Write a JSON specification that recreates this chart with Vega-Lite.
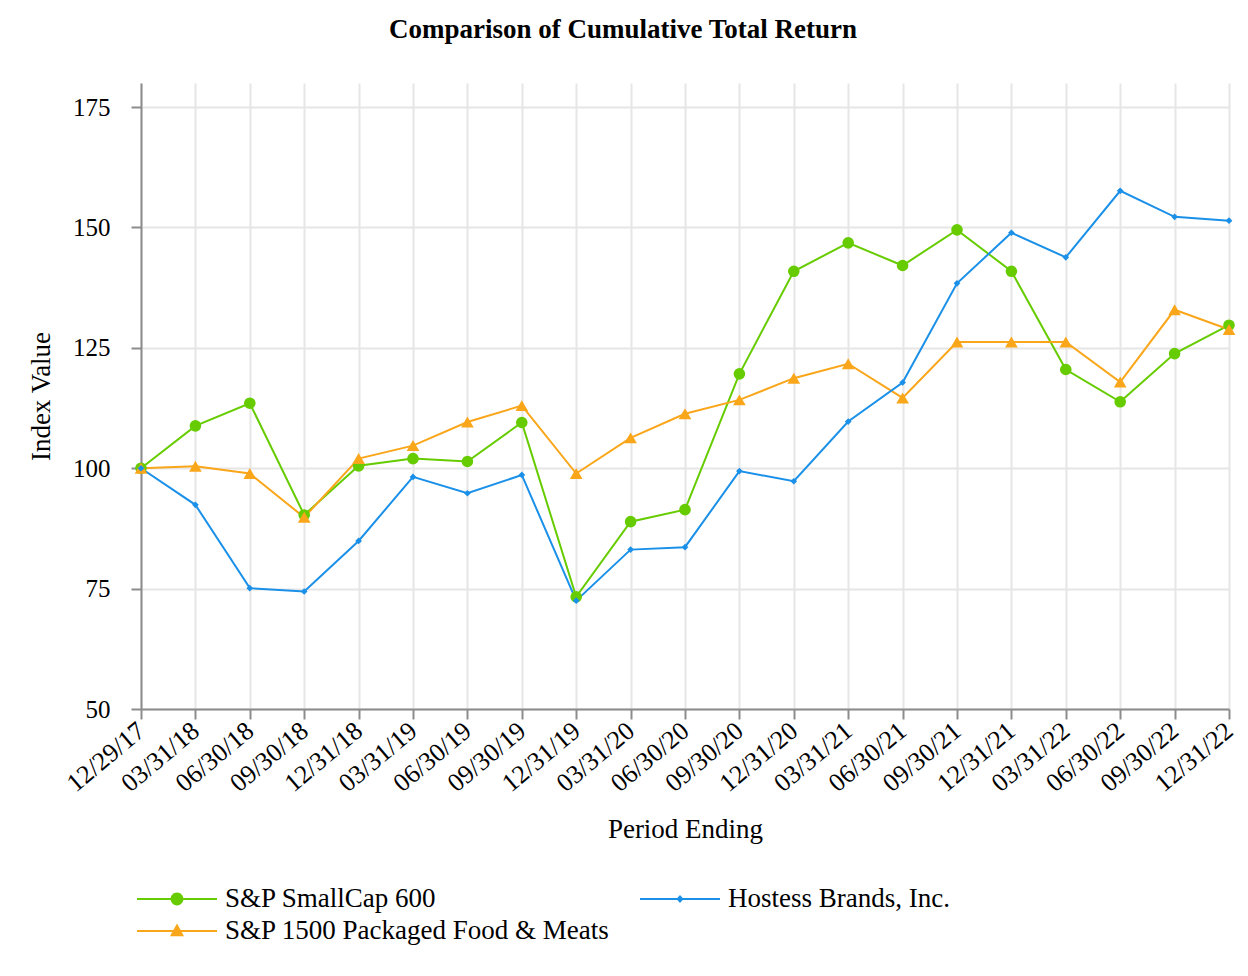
{
  "$schema": "https://vega.github.io/schema/vega-lite/v6.json",
  "width": 1088,
  "height": 626,
  "autosize": {"type": "none"},
  "padding": {"left": 141, "top": 83, "right": 19, "bottom": 267},
  "background": "white",
  "title": {
    "text": "Comparison of Cumulative Total Return",
    "font": "Liberation Serif",
    "fontSize": 27,
    "fontWeight": "bold",
    "color": "black",
    "anchor": "middle",
    "dx": -62,
    "offset": 39
  },
  "datasets": {
    "returns": [
      {"date": "12/29/17", "series": "S&P SmallCap 600", "value": 100},
      {"date": "03/31/18", "series": "S&P SmallCap 600", "value": 108.8},
      {"date": "06/30/18", "series": "S&P SmallCap 600", "value": 113.5},
      {"date": "09/30/18", "series": "S&P SmallCap 600", "value": 90.3},
      {"date": "12/31/18", "series": "S&P SmallCap 600", "value": 100.5},
      {"date": "03/31/19", "series": "S&P SmallCap 600", "value": 102.0},
      {"date": "06/30/19", "series": "S&P SmallCap 600", "value": 101.4},
      {"date": "09/30/19", "series": "S&P SmallCap 600", "value": 109.5},
      {"date": "12/31/19", "series": "S&P SmallCap 600", "value": 73.3},
      {"date": "03/31/20", "series": "S&P SmallCap 600", "value": 88.9},
      {"date": "06/30/20", "series": "S&P SmallCap 600", "value": 91.4},
      {"date": "09/30/20", "series": "S&P SmallCap 600", "value": 119.6},
      {"date": "12/31/20", "series": "S&P SmallCap 600", "value": 140.9},
      {"date": "03/31/21", "series": "S&P SmallCap 600", "value": 146.8},
      {"date": "06/30/21", "series": "S&P SmallCap 600", "value": 142.1},
      {"date": "09/30/21", "series": "S&P SmallCap 600", "value": 149.5},
      {"date": "12/31/21", "series": "S&P SmallCap 600", "value": 140.9},
      {"date": "03/31/22", "series": "S&P SmallCap 600", "value": 120.5},
      {"date": "06/30/22", "series": "S&P SmallCap 600", "value": 113.8},
      {"date": "09/30/22", "series": "S&P SmallCap 600", "value": 123.8},
      {"date": "12/31/22", "series": "S&P SmallCap 600", "value": 129.7},
      {"date": "12/29/17", "series": "S&P 1500 Packaged Food & Meats", "value": 100},
      {"date": "03/31/18", "series": "S&P 1500 Packaged Food & Meats", "value": 100.4},
      {"date": "06/30/18", "series": "S&P 1500 Packaged Food & Meats", "value": 98.9},
      {"date": "09/30/18", "series": "S&P 1500 Packaged Food & Meats", "value": 89.8},
      {"date": "12/31/18", "series": "S&P 1500 Packaged Food & Meats", "value": 102.0},
      {"date": "03/31/19", "series": "S&P 1500 Packaged Food & Meats", "value": 104.7},
      {"date": "06/30/19", "series": "S&P 1500 Packaged Food & Meats", "value": 109.6},
      {"date": "09/30/19", "series": "S&P 1500 Packaged Food & Meats", "value": 113.0},
      {"date": "12/31/19", "series": "S&P 1500 Packaged Food & Meats", "value": 98.9},
      {"date": "03/31/20", "series": "S&P 1500 Packaged Food & Meats", "value": 106.3},
      {"date": "06/30/20", "series": "S&P 1500 Packaged Food & Meats", "value": 111.3},
      {"date": "09/30/20", "series": "S&P 1500 Packaged Food & Meats", "value": 114.2},
      {"date": "12/31/20", "series": "S&P 1500 Packaged Food & Meats", "value": 118.7},
      {"date": "03/31/21", "series": "S&P 1500 Packaged Food & Meats", "value": 121.7},
      {"date": "06/30/21", "series": "S&P 1500 Packaged Food & Meats", "value": 114.6},
      {"date": "09/30/21", "series": "S&P 1500 Packaged Food & Meats", "value": 126.2},
      {"date": "12/31/21", "series": "S&P 1500 Packaged Food & Meats", "value": 126.2},
      {"date": "03/31/22", "series": "S&P 1500 Packaged Food & Meats", "value": 126.2},
      {"date": "06/30/22", "series": "S&P 1500 Packaged Food & Meats", "value": 117.9},
      {"date": "09/30/22", "series": "S&P 1500 Packaged Food & Meats", "value": 132.9},
      {"date": "12/31/22", "series": "S&P 1500 Packaged Food & Meats", "value": 128.8},
      {"date": "12/29/17", "series": "Hostess Brands, Inc.", "value": 100},
      {"date": "03/31/18", "series": "Hostess Brands, Inc.", "value": 92.4},
      {"date": "06/30/18", "series": "Hostess Brands, Inc.", "value": 75.1},
      {"date": "09/30/18", "series": "Hostess Brands, Inc.", "value": 74.4},
      {"date": "12/31/18", "series": "Hostess Brands, Inc.", "value": 84.9},
      {"date": "03/31/19", "series": "Hostess Brands, Inc.", "value": 98.2},
      {"date": "06/30/19", "series": "Hostess Brands, Inc.", "value": 94.8},
      {"date": "09/30/19", "series": "Hostess Brands, Inc.", "value": 98.6},
      {"date": "12/31/19", "series": "Hostess Brands, Inc.", "value": 72.5},
      {"date": "03/31/20", "series": "Hostess Brands, Inc.", "value": 83.1},
      {"date": "06/30/20", "series": "Hostess Brands, Inc.", "value": 83.6},
      {"date": "09/30/20", "series": "Hostess Brands, Inc.", "value": 99.4},
      {"date": "12/31/20", "series": "Hostess Brands, Inc.", "value": 97.3},
      {"date": "03/31/21", "series": "Hostess Brands, Inc.", "value": 109.7},
      {"date": "06/30/21", "series": "Hostess Brands, Inc.", "value": 117.8},
      {"date": "09/30/21", "series": "Hostess Brands, Inc.", "value": 138.4},
      {"date": "12/31/21", "series": "Hostess Brands, Inc.", "value": 148.9},
      {"date": "03/31/22", "series": "Hostess Brands, Inc.", "value": 143.8},
      {"date": "06/30/22", "series": "Hostess Brands, Inc.", "value": 157.6},
      {"date": "09/30/22", "series": "Hostess Brands, Inc.", "value": 152.2},
      {"date": "12/31/22", "series": "Hostess Brands, Inc.", "value": 151.4}
    ]
  },
  "data": {"name": "returns"},
  "encoding": {
    "x": {
      "field": "date",
      "type": "ordinal",
      "sort": null,
      "scale": {"type": "point", "padding": 0},
      "axis": {
        "title": "Period Ending",
        "labelAngle": -40,
        "labelBaseline": "middle",
        "labelPadding": 8,
        "labelFontSize": 26,
        "titlePadding": 20,
        "grid": true
      }
    },
    "y": {
      "field": "value",
      "type": "quantitative",
      "scale": {"domain": [50, 180], "nice": false, "zero": false},
      "axis": {
        "title": "Index Value",
        "values": [50, 75, 100, 125, 150, 175],
        "labelPadding": 21,
        "titlePadding": 17
      }
    }
  },
  "layer": [
    {
      "mark": {"type": "line", "strokeWidth": 2},
      "encoding": {
        "color": {
          "field": "series",
          "type": "nominal",
          "scale": {
            "domain": ["S&P SmallCap 600", "S&P 1500 Packaged Food & Meats", "Hostess Brands, Inc."],
            "range": ["#66cc00", "#faa61a", "#1a90e8"]
          },
          "legend": null
        }
      }
    },
    {
      "mark": {"type": "point", "filled": true, "opacity": 1, "strokeWidth": 0},
      "encoding": {
        "color": {
          "field": "series",
          "type": "nominal",
          "scale": {
            "domain": ["S&P SmallCap 600", "S&P 1500 Packaged Food & Meats", "Hostess Brands, Inc."],
            "range": ["#66cc00", "#faa61a", "#1a90e8"]
          },
          "legend": null
        },
        "shape": {
          "field": "series",
          "type": "nominal",
          "scale": {
            "domain": ["S&P SmallCap 600", "S&P 1500 Packaged Food & Meats", "Hostess Brands, Inc."],
            "range": ["circle", "triangle-up", "diamond"]
          },
          "legend": null
        },
        "size": {
          "field": "series",
          "type": "nominal",
          "scale": {
            "type": "ordinal",
            "domain": ["S&P SmallCap 600", "S&P 1500 Packaged Food & Meats", "Hostess Brands, Inc."],
            "range": [135, 160, 45]
          },
          "legend": null
        }
      }
    },
    {
      "mark": {"type": "point", "filled": true, "opacity": 0, "size": 1024, "strokeWidth": 0},
      "encoding": {
        "color": {
          "field": "series",
          "type": "nominal",
          "scale": {
            "domain": ["S&P SmallCap 600", "S&P 1500 Packaged Food & Meats", "Hostess Brands, Inc."],
            "range": ["#66cc00", "#faa61a", "#1a90e8"]
          },
          "legend": {
            "title": null,
            "orient": "none",
            "direction": "vertical",
            "legendX": 20,
            "legendY": 800,
            "columns": 2,
            "columnPadding": 30,
            "rowPadding": 3,
            "symbolSize": 1024,
            "symbolOpacity": 1,
            "symbolStrokeWidth": 0,
            "labelFont": "Liberation Serif",
            "labelFontSize": 27,
            "labelColor": "black",
            "labelOffset": 32,
            "labelLimit": 0
          }
        },
        "shape": {
          "field": "series",
          "type": "nominal",
          "scale": {
            "domain": ["S&P SmallCap 600", "S&P 1500 Packaged Food & Meats", "Hostess Brands, Inc."],
            "range": [
              "M-2.5,-0.0625H2.5V0.0625H-2.5Z M0.4,0A0.4,0.4 0 1,1 -0.4,0A0.4,0.4 0 1,1 0.4,0Z",
              "M-2.5,-0.0625H2.5V0.0625H-2.5Z M0,-0.47L0.44,0.33L-0.44,0.33Z",
              "M-2.5,-0.0625H2.5V0.0625H-2.5Z M0,-0.25L0.22,0L0,0.25L-0.22,0Z"
            ]
          },
          "legend": {
            "title": null,
            "orient": "none",
            "direction": "vertical",
            "legendX": 20,
            "legendY": 800,
            "columns": 2,
            "columnPadding": 30,
            "rowPadding": 3,
            "symbolSize": 1024,
            "symbolOpacity": 1,
            "symbolStrokeWidth": 0,
            "labelFont": "Liberation Serif",
            "labelFontSize": 27,
            "labelColor": "black",
            "labelOffset": 32,
            "labelLimit": 0
          }
        }
      }
    }
  ],
  "resolve": {"scale": {"color": "independent", "shape": "independent", "size": "independent"}},
  "config": {
    "view": {"stroke": null},
    "axis": {
      "labelFont": "Liberation Serif",
      "labelFontSize": 25,
      "labelColor": "black",
      "titleFont": "Liberation Serif",
      "titleFontSize": 27,
      "titleFontWeight": "normal",
      "titleColor": "black",
      "domainColor": "#8c8c8c",
      "domainWidth": 2,
      "tickColor": "#8c8c8c",
      "tickWidth": 2,
      "tickSize": 10,
      "gridColor": "#e6e6e6",
      "gridWidth": 2
    }
  }
}
